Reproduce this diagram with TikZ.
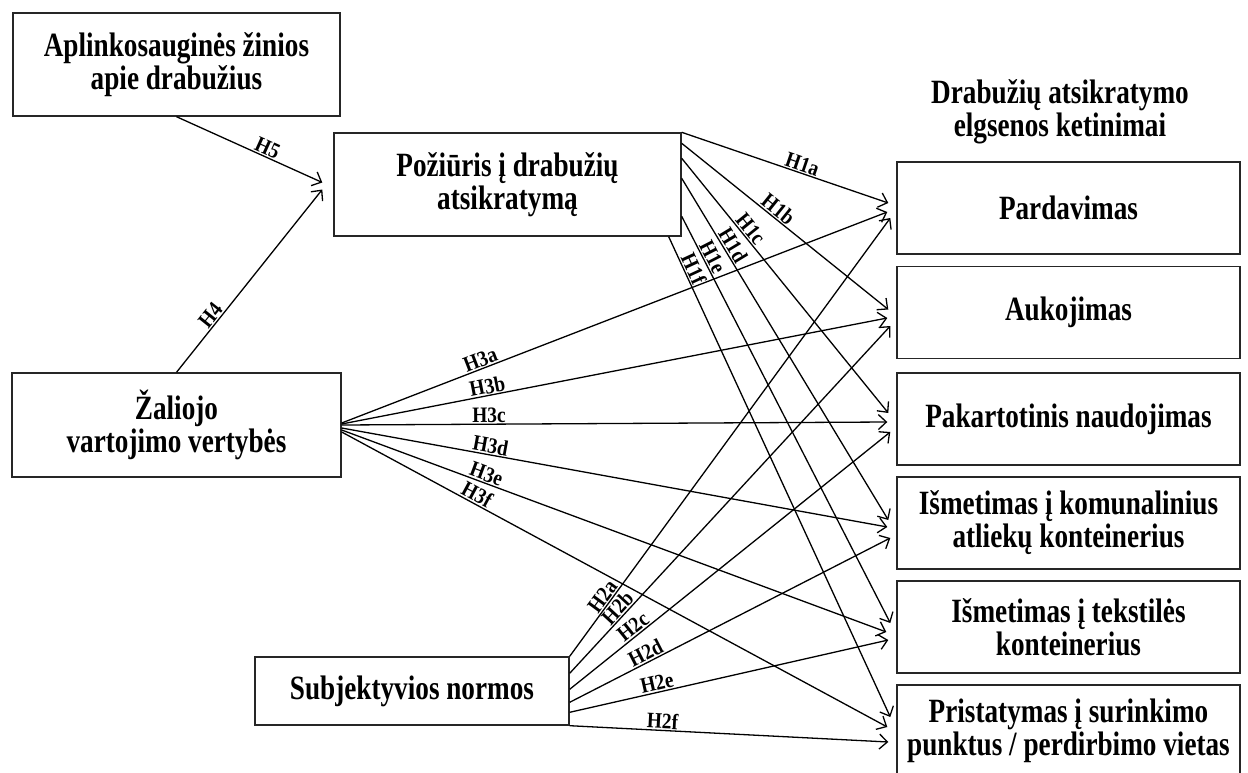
\documentclass[tikz,border=0pt]{standalone}
\usepackage{fontspec}
\setmainfont{Liberation Serif}
\newfontfamily\boxfont{Liberation Serif}[FakeStretch=0.8]
\newfontfamily\hypfont{Liberation Serif}[FakeStretch=0.88]
\usetikzlibrary{arrows.meta,calc}

\begin{document}
\begin{tikzpicture}[x=1pt,y=-1pt,
  box/.style={draw=black!85, line width=1.4pt, align=center, inner sep=0pt,
    font=\boxfont\fontsize{34}{33}\selectfont\bfseries},
  outbox/.style={box, minimum width=343pt, minimum height=92pt},
  link/.style={line width=1.3pt, -{Straight Barb[length=8pt,width=15pt,line width=1.3pt]}},
  hyp/.style={sloped, above, inner sep=1pt, font=\hypfont\fontsize{22}{22}\selectfont\bfseries}]
\useasboundingbox (0,0) rectangle (1248,773);

% predictors and attitude
\node[box, minimum width=327pt, minimum height=103pt] (A) at (176.5,64.5)
  {Aplinkosauginės žinios\\apie drabužius};
\node[box, minimum width=347pt, minimum height=103pt] (P) at (507.5,184.5)
  {Požiūris į drabužių\\atsikratymą};
\node[box, minimum width=329pt, minimum height=104pt] (Z) at (176.5,425)
  {Žaliojo\\vartojimo vertybės};
\node[box, minimum width=314pt, minimum height=68pt] (S) at (412,691)
  {Subjektyvios normos};

% behavioural intentions
\node[font=\boxfont\fontsize{34}{33}\selectfont\bfseries, align=center] (T) at (1060,112)
  {Drabužių atsikratymo\\elgsenos ketinimai};
\node[outbox] (R1) at (1068.5,208) {Pardavimas};
\node[outbox] (R2) at (1068.5,312.5) {Aukojimas};
\node[outbox] (R3) at (1068.5,419) {Pakartotinis naudojimas};
\node[outbox] (R4) at (1068.5,523) {Išmetimas į komunalinius\\atliekų konteinerius};
\node[outbox] (R5) at (1068.5,627) {Išmetimas į tekstilės\\konteinerius};
\node[outbox] (R6) at (1068.5,731) {Pristatymas į surinkimo\\punktus / perdirbimo vietas};

% H4, H5
\draw[link] (A.south) -- node[hyp,pos=0.6]{H5} ($(P.west)+(-11,-2)$);
\draw[link] (Z.north) -- node[hyp,pos=0.28]{H4} ($(P.west)+(-11,5)$);

% H1
\draw[link] (P.north east) -- node[hyp,pos=.57]{H1a} ($(R1.west)+(-8,-5)$);
\draw[link] ($(P.north east)+(0,11)$) -- node[hyp,pos=.44]{H1b} ($(R2.west)+(-8,-3)$);
\draw[link] ($(P.north east)+(0,26)$) -- node[hyp,pos=.30]{H1c} ($(R3.west)+(-8,-6)$);
\draw[link] ($(P.north east)+(0,46)$) -- node[hyp,pos=.21]{H1d} ($(R4.west)+(-8,-3)$);
\draw[link] ($(P.north east)+(0,84)$) -- node[hyp,pos=.11]{H1e} ($(R5.west)+(-6,-4)$);
\draw[link] ($(P.south east)+(-13,0)$) -- node[hyp,pos=.075]{H1f} ($(R6.west)+(-6,-14)$);

% H3
\draw[link] ($(Z.east)+(0,-2)$) -- node[hyp,pos=.26]{H3a} ($(R1.west)+(-9,4)$);
\draw[link] ($(Z.east)+(0,-1)$) -- node[hyp,pos=.27]{H3b} ($(R2.west)+(-9,5.5)$);
\draw[link] (Z.east) -- node[hyp,pos=.27]{H3c} ($(R3.west)+(-9,3)$);
\draw[link] ($(Z.east)+(0,3)$) -- node[hyp,pos=.27]{H3d} ($(R4.west)+(-9,4)$);
\draw[link] ($(Z.east)+(0,5)$) -- node[hyp,pos=.26]{H3e} ($(R5.west)+(-10,5)$);
\draw[link] ($(Z.east)+(0,7)$) -- node[hyp,pos=.24]{H3f} ($(R6.west)+(-9,-4)$);

% H2
\draw[link] (S.north east) -- node[hyp,pos=.125]{H2a} ($(R1.west)+(-6,10)$);
\draw[link] ($(S.north east)+(0,17)$) -- node[hyp,pos=.17]{H2b} ($(R2.west)+(-6,13.5)$);
\draw[link] ($(S.north east)+(0,33)$) -- node[hyp,pos=.215]{H2c} ($(R3.west)+(-6,13)$);
\draw[link] ($(S.north east)+(0,46)$) -- node[hyp,pos=.25]{H2d} ($(R4.west)+(-6,15)$);
\draw[link] ($(S.north east)+(0,56)$) -- node[hyp,pos=.28]{H2e} ($(R5.west)+(-8,13)$);
\draw[link] (S.south east) -- node[hyp,pos=.29]{H2f} ($(R6.west)+(-8,11)$);
\end{tikzpicture}
\end{document}
